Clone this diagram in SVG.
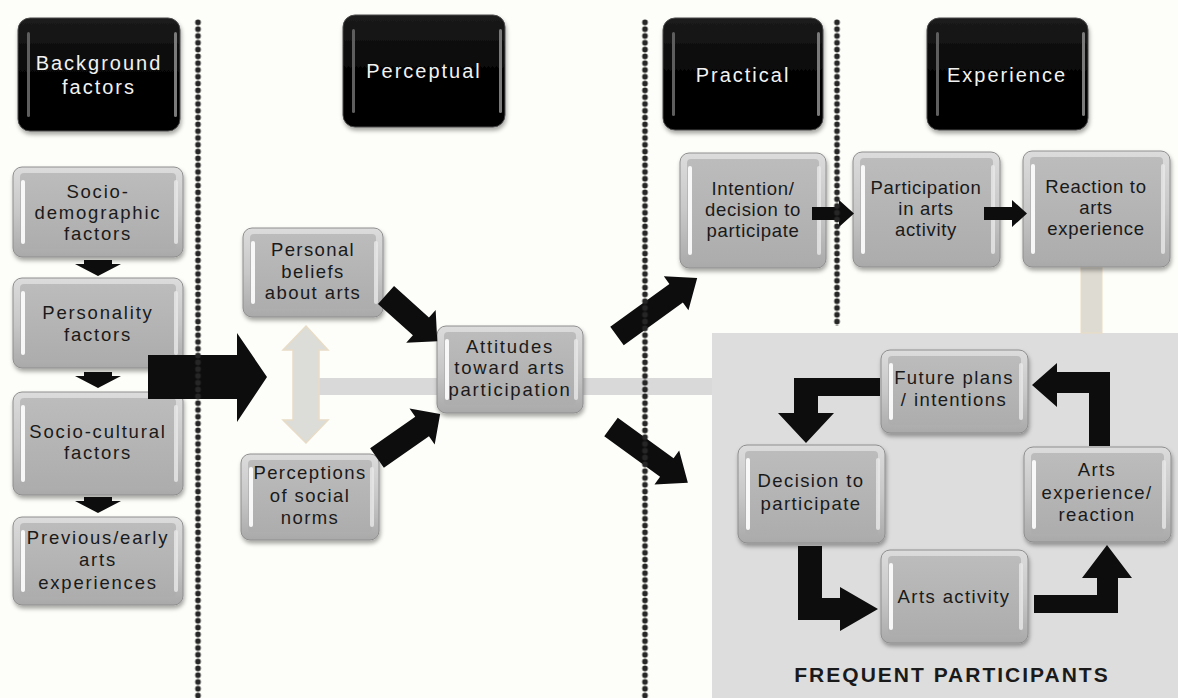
<svg xmlns="http://www.w3.org/2000/svg" width="1178" height="698" viewBox="0 0 1178 698">
<defs>
<filter id="sh" x="-10%" y="-10%" width="125%" height="130%"><feDropShadow dx="1" dy="3" stdDeviation="2" flood-color="#000" flood-opacity="0.35"/></filter>
<linearGradient id="bev" x1="0" y1="0" x2="0" y2="1"><stop offset="0" stop-color="#dcdcdc"/><stop offset="0.5" stop-color="#c8c8c8"/><stop offset="1" stop-color="#a9a9a9"/></linearGradient>
<linearGradient id="face" x1="0" y1="0" x2="0" y2="1"><stop offset="0" stop-color="#bcbcbc"/><stop offset="1" stop-color="#adadad"/></linearGradient>
<linearGradient id="blk" x1="0" y1="0" x2="0" y2="1"><stop offset="0" stop-color="#1c1c1c"/><stop offset="0.5" stop-color="#050505"/><stop offset="1" stop-color="#000"/></linearGradient>
<pattern id="dv" x="-3.5" y="19" width="7" height="6.8" patternUnits="userSpaceOnUse"><circle cx="3.5" cy="3.4" r="2.8" fill="#262626"/></pattern>
<style>
.o{fill:url(#bev);stroke:#8e8e8e;stroke-width:1;filter:url(#sh)}
.i{fill:url(#face)}
.hl{fill:#fff;opacity:.9}
.hr{fill:#e9e9e9;opacity:.8}
.ho{fill:url(#blk);stroke:#4a4a4a;stroke-width:1;filter:url(#sh)}
.hhl{fill:#5e5e5e}
.hhr{fill:#7a7a7a}
.t{font-family:"Liberation Sans",Arial,sans-serif;font-size:18.5px;fill:#1a1a1a;text-anchor:middle;letter-spacing:1.4px}
.n{letter-spacing:0.7px}
.w{letter-spacing:1.8px}
.ht{font-family:"Liberation Sans",Arial,sans-serif;font-size:20px;fill:#f2f2f2;text-anchor:middle;letter-spacing:2px}
.ar{fill:#0d0d0d}
.ft{font-family:"Liberation Sans",Arial,sans-serif;font-size:21px;font-weight:bold;fill:#1a1a1a;text-anchor:middle;letter-spacing:2px}
</style>
</defs>
<rect width="1178" height="698" fill="#fdfdf9"/>
<g id="backdrop">
<rect x="712" y="333" width="466" height="365" fill="#dddddd"/>
<rect x="318" y="378" width="394" height="17" fill="#d9d9d9"/>
<rect x="1081" y="267" width="21" height="66" fill="#dedbd2" stroke="#ecdcc0" stroke-width="1"/>
<text class="ft" x="952" y="682">FREQUENT PARTICIPANTS</text>
</g>
<g id="headers">
<g id="h_background"><rect class="ho" x="18" y="18" width="162" height="113" rx="12"/><rect class="hhl" x="27" y="32" width="3" height="85" rx="1.5"/><rect class="hhr" x="174" y="32" width="3" height="85" rx="1.5"/><text class="ht" x="99" y="70">Background</text><text class="ht" x="99" y="94">factors</text></g>
<g id="h_perceptual"><rect class="ho" x="343" y="15" width="162" height="112" rx="12"/><rect class="hhl" x="352" y="29" width="3" height="84" rx="1.5"/><rect class="hhr" x="499" y="29" width="3" height="84" rx="1.5"/><text class="ht" x="424" y="78">Perceptual</text></g>
<g id="h_practical"><rect class="ho" x="663" y="18" width="160" height="112" rx="12"/><rect class="hhl" x="672" y="32" width="3" height="84" rx="1.5"/><rect class="hhr" x="817" y="32" width="3" height="84" rx="1.5"/><text class="ht" x="743" y="82">Practical</text></g>
<g id="h_experience"><rect class="ho" x="927" y="18" width="161" height="112" rx="12"/><rect class="hhl" x="936" y="32" width="3" height="84" rx="1.5"/><rect class="hhr" x="1082" y="32" width="3" height="84" rx="1.5"/><text class="ht" x="1007" y="82">Experience</text></g>
</g>
<g id="nodes">
<g id="n_sociodemo"><rect class="o" x="13" y="167" width="170" height="90" rx="9"/><rect class="i" x="20" y="173" width="156" height="76" rx="4"/><rect class="hl" x="21" y="180" width="4" height="64" rx="2"/><rect class="hr" x="174" y="180" width="4" height="64" rx="2"/><text class="t w" x="98" y="198">Socio-</text><text class="t w" x="98" y="219">demographic</text><text class="t w" x="98" y="240">factors</text></g>
<g id="n_personality"><rect class="o" x="13" y="278" width="170" height="90" rx="9"/><rect class="i" x="20" y="284" width="156" height="76" rx="4"/><rect class="hl" x="21" y="291" width="4" height="64" rx="2"/><rect class="hr" x="174" y="291" width="4" height="64" rx="2"/><text class="t w" x="98" y="319">Personality</text><text class="t w" x="98" y="341">factors</text></g>
<g id="n_sociocultural"><rect class="o" x="13" y="392" width="170" height="103" rx="9"/><rect class="i" x="20" y="398" width="156" height="89" rx="4"/><rect class="hl" x="21" y="405" width="4" height="77" rx="2"/><rect class="hr" x="174" y="405" width="4" height="77" rx="2"/><text class="t w" x="98" y="438">Socio-cultural</text><text class="t w" x="98" y="459">factors</text></g>
<g id="n_previous"><rect class="o" x="13" y="517" width="170" height="88" rx="9"/><rect class="i" x="20" y="523" width="156" height="74" rx="4"/><rect class="hl" x="21" y="530" width="4" height="62" rx="2"/><rect class="hr" x="174" y="530" width="4" height="62" rx="2"/><text class="t w" x="98" y="544">Previous/early</text><text class="t w" x="98" y="566">arts</text><text class="t w" x="98" y="589">experiences</text></g>
<g id="n_beliefs"><rect class="o" x="243" y="228" width="140" height="89" rx="9"/><rect class="i" x="250" y="234" width="126" height="75" rx="4"/><rect class="hl" x="251" y="241" width="4" height="63" rx="2"/><rect class="hr" x="374" y="241" width="4" height="63" rx="2"/><text class="t" x="313" y="256">Personal</text><text class="t" x="313" y="278">beliefs</text><text class="t" x="313" y="299">about arts</text></g>
<g id="n_norms"><rect class="o" x="241" y="454" width="138" height="86" rx="9"/><rect class="i" x="248" y="460" width="124" height="72" rx="4"/><rect class="hl" x="249" y="467" width="4" height="60" rx="2"/><rect class="hr" x="370" y="467" width="4" height="60" rx="2"/><text class="t" x="310" y="479">Perceptions</text><text class="t" x="310" y="502">of social</text><text class="t" x="310" y="524">norms</text></g>
<g id="n_attitudes"><rect class="o" x="437" y="326" width="146" height="87" rx="9"/><rect class="i" x="444" y="332" width="132" height="73" rx="4"/><rect class="hl" x="445" y="339" width="4" height="61" rx="2"/><rect class="hr" x="574" y="339" width="4" height="61" rx="2"/><text class="t w" x="510" y="353">Attitudes</text><text class="t w" x="510" y="374">toward arts</text><text class="t w" x="510" y="396">participation</text></g>
<g id="n_intention"><rect class="o" x="680" y="153" width="146" height="115" rx="9"/><rect class="i" x="687" y="159" width="132" height="101" rx="4"/><rect class="hl" x="688" y="166" width="4" height="89" rx="2"/><rect class="hr" x="817" y="166" width="4" height="89" rx="2"/><text class="t n" x="753" y="195">Intention/</text><text class="t n" x="753" y="216">decision to</text><text class="t n" x="753" y="237">participate</text></g>
<g id="n_participation"><rect class="o" x="853" y="152" width="147" height="115" rx="9"/><rect class="i" x="860" y="158" width="133" height="101" rx="4"/><rect class="hl" x="861" y="165" width="4" height="89" rx="2"/><rect class="hr" x="991" y="165" width="4" height="89" rx="2"/><text class="t n" x="926" y="194">Participation</text><text class="t n" x="926" y="215">in arts</text><text class="t n" x="926" y="236">activity</text></g>
<g id="n_reaction"><rect class="o" x="1023" y="151" width="147" height="116" rx="9"/><rect class="i" x="1030" y="157" width="133" height="102" rx="4"/><rect class="hl" x="1031" y="164" width="4" height="90" rx="2"/><rect class="hr" x="1161" y="164" width="4" height="90" rx="2"/><text class="t n" x="1096" y="193">Reaction to</text><text class="t n" x="1096" y="214">arts</text><text class="t n" x="1096" y="235">experience</text></g>
<g id="n_future"><rect class="o" x="881" y="350" width="147" height="83" rx="9"/><rect class="i" x="888" y="356" width="133" height="69" rx="4"/><rect class="hl" x="889" y="363" width="4" height="57" rx="2"/><rect class="hr" x="1019" y="363" width="4" height="57" rx="2"/><text class="t" x="954" y="384">Future plans</text><text class="t" x="954" y="406">/ intentions</text></g>
<g id="n_decision"><rect class="o" x="738" y="445" width="147" height="98" rx="9"/><rect class="i" x="745" y="451" width="133" height="84" rx="4"/><rect class="hl" x="746" y="458" width="4" height="72" rx="2"/><rect class="hr" x="876" y="458" width="4" height="72" rx="2"/><text class="t" x="811" y="487">Decision to</text><text class="t" x="811" y="510">participate</text></g>
<g id="n_artsexp"><rect class="o" x="1024" y="447" width="147" height="95" rx="9"/><rect class="i" x="1031" y="453" width="133" height="81" rx="4"/><rect class="hl" x="1032" y="460" width="4" height="69" rx="2"/><rect class="hr" x="1162" y="460" width="4" height="69" rx="2"/><text class="t" x="1097" y="476">Arts</text><text class="t" x="1097" y="499">experience/</text><text class="t" x="1097" y="521">reaction</text></g>
<g id="n_artsact"><rect class="o" x="881" y="550" width="147" height="93" rx="9"/><rect class="i" x="888" y="556" width="133" height="79" rx="4"/><rect class="hl" x="889" y="563" width="4" height="67" rx="2"/><rect class="hr" x="1019" y="563" width="4" height="67" rx="2"/><text class="t" x="954" y="603">Arts activity</text></g>
</g>
<g id="connectors">
<polygon class="ar" points="84,260 112,260 112,264 121,264 98,276 75,264 84,264"/>
<polygon class="ar" points="84,372 112,372 112,376 121,376 98,388 75,376 84,376"/>
<polygon class="ar" points="84,497 112,497 112,501 121,501 98,513 75,501 84,501"/>
<polygon class="ar" points="148,355 237,355 237,333 267,377 237,422 237,399 148,399"/>
<polygon points="306,326 328,350 319,350 319,420 328,420 306,443 283,420 293,420 293,350 283,350" fill="#dcdcd8" stroke="#e8dcc6" stroke-width="1.5"/>
<path class="ar" transform="translate(386,295) rotate(42)" d="M0,-12 H47 V-22 L69,0 L47,22 V12 H0 Z"/>
<path class="ar" transform="translate(377,458) rotate(-34.9)" d="M0,-12 H55 V-22 L77,0 L55,22 V12 H0 Z"/>
<path class="ar" transform="translate(617,336) rotate(-35.9)" d="M0,-11.5 H73 V-21 L99,0 L73,21 V11.5 H0 Z"/>
<path class="ar" transform="translate(611,427) rotate(36)" d="M0,-11.5 H69 V-21 L95,0 L69,21 V11.5 H0 Z"/>
<polygon class="ar" points="812,207 839,207 839,200 854,213.5 839,227 839,220 812,220"/>
<polygon class="ar" points="984,207 1012,207 1012,200 1027,213.5 1012,227 1012,220 984,220"/>
<polygon class="ar" points="880,378 794,378 794,413 778,413 806,443 834,413 818,413 818,396 880,396"/>
<polygon class="ar" points="798,546 822,546 822,598 840,598 840,587 878,609 840,631 840,620 798,620"/>
<polygon class="ar" points="1034,595 1097,595 1097,578 1082,578 1107,545 1132,578 1118,578 1118,613 1034,613"/>
<polygon class="ar" points="1110,446 1089,446 1089,393 1057,393 1057,407 1032,385 1057,363 1057,372 1110,372"/>
</g>
<g id="dividers">
<rect x="-3.5" y="19" width="7" height="679" fill="url(#dv)" transform="translate(198,0)"/>
<rect x="-3.5" y="19" width="7" height="679" fill="url(#dv)" transform="translate(645,0)"/>
<rect x="-3.5" y="19" width="7" height="307" fill="url(#dv)" transform="translate(837,0)"/>
</g>
</svg>
